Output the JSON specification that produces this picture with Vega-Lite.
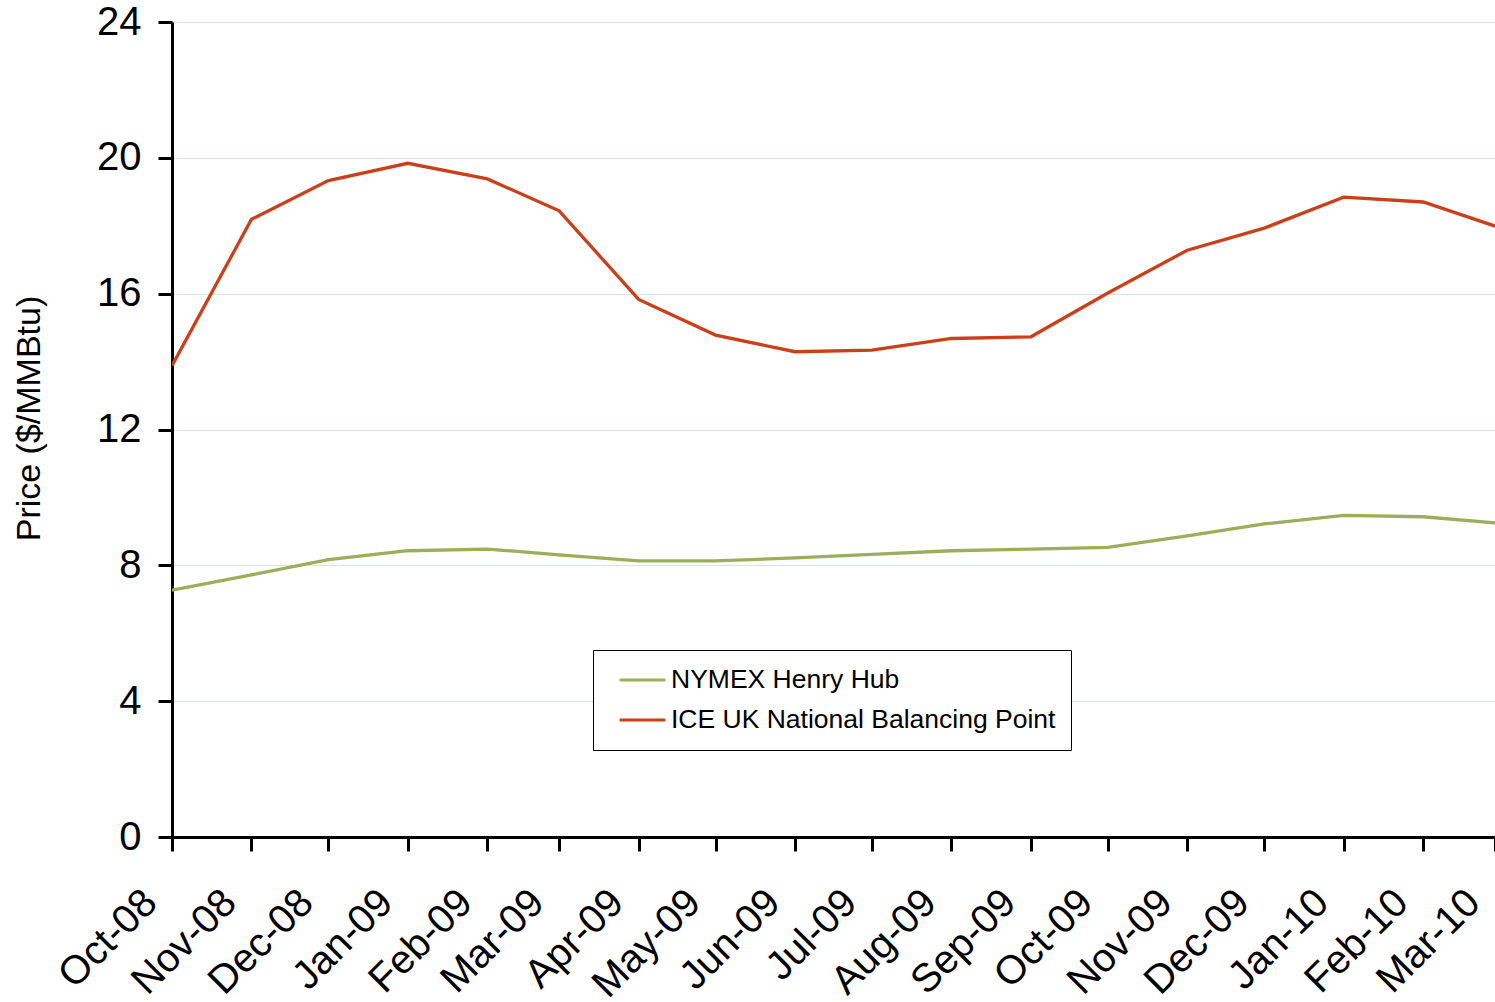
{
  "$schema": "https://vega.github.io/schema/vega-lite/v6.json",
  "autosize": "none",
  "width": 1323,
  "height": 815,
  "padding": {"left": 172, "top": 22, "right": 0, "bottom": 165},
  "background": "white",
  "config": {
    "font": "Liberation Sans",
    "view": {"stroke": null},
    "axis": {"labelColor": "black", "titleColor": "black", "domainColor": "black", "tickColor": "black"}
  },
  "data": {
    "values": [
      {"date": "2008-10-01", "series": "NYMEX Henry Hub", "price": 7.27},
      {"date": "2008-11-01", "series": "NYMEX Henry Hub", "price": 7.72},
      {"date": "2008-12-01", "series": "NYMEX Henry Hub", "price": 8.17},
      {"date": "2009-01-01", "series": "NYMEX Henry Hub", "price": 8.43},
      {"date": "2009-02-01", "series": "NYMEX Henry Hub", "price": 8.48},
      {"date": "2009-03-01", "series": "NYMEX Henry Hub", "price": 8.31},
      {"date": "2009-04-01", "series": "NYMEX Henry Hub", "price": 8.13},
      {"date": "2009-05-01", "series": "NYMEX Henry Hub", "price": 8.13},
      {"date": "2009-06-01", "series": "NYMEX Henry Hub", "price": 8.22},
      {"date": "2009-07-01", "series": "NYMEX Henry Hub", "price": 8.32},
      {"date": "2009-08-01", "series": "NYMEX Henry Hub", "price": 8.43},
      {"date": "2009-09-01", "series": "NYMEX Henry Hub", "price": 8.48},
      {"date": "2009-10-01", "series": "NYMEX Henry Hub", "price": 8.53},
      {"date": "2009-11-01", "series": "NYMEX Henry Hub", "price": 8.87},
      {"date": "2009-12-01", "series": "NYMEX Henry Hub", "price": 9.22},
      {"date": "2010-01-01", "series": "NYMEX Henry Hub", "price": 9.47},
      {"date": "2010-02-01", "series": "NYMEX Henry Hub", "price": 9.43},
      {"date": "2010-03-01", "series": "NYMEX Henry Hub", "price": 9.25},
      {"date": "2008-10-01", "series": "ICE UK National Balancing Point", "price": 13.88},
      {"date": "2008-11-01", "series": "ICE UK National Balancing Point", "price": 18.19},
      {"date": "2008-12-01", "series": "ICE UK National Balancing Point", "price": 19.33},
      {"date": "2009-01-01", "series": "ICE UK National Balancing Point", "price": 19.84},
      {"date": "2009-02-01", "series": "ICE UK National Balancing Point", "price": 19.38},
      {"date": "2009-03-01", "series": "ICE UK National Balancing Point", "price": 18.44},
      {"date": "2009-04-01", "series": "ICE UK National Balancing Point", "price": 15.83},
      {"date": "2009-05-01", "series": "ICE UK National Balancing Point", "price": 14.78},
      {"date": "2009-06-01", "series": "ICE UK National Balancing Point", "price": 14.29},
      {"date": "2009-07-01", "series": "ICE UK National Balancing Point", "price": 14.34},
      {"date": "2009-08-01", "series": "ICE UK National Balancing Point", "price": 14.68},
      {"date": "2009-09-01", "series": "ICE UK National Balancing Point", "price": 14.73},
      {"date": "2009-10-01", "series": "ICE UK National Balancing Point", "price": 16.02},
      {"date": "2009-11-01", "series": "ICE UK National Balancing Point", "price": 17.28},
      {"date": "2009-12-01", "series": "ICE UK National Balancing Point", "price": 17.93},
      {"date": "2010-01-01", "series": "ICE UK National Balancing Point", "price": 18.84},
      {"date": "2010-02-01", "series": "ICE UK National Balancing Point", "price": 18.70},
      {"date": "2010-03-01", "series": "ICE UK National Balancing Point", "price": 17.99}
    ]
  },
  "mark": {"type": "line", "strokeWidth": 3.3, "clip": true},
  "encoding": {
    "x": {
      "field": "date",
      "type": "temporal",
      "scale": {"type": "utc", "nice": false},
      "axis": {
        "title": null,
        "labelExpr": "utcFormat(datum.value, '%b-%y')",
        "values": [
          {"year": 2008, "month": 10, "date": 1, "utc": true},
          {"year": 2008, "month": 11, "date": 1, "utc": true},
          {"year": 2008, "month": 12, "date": 1, "utc": true},
          {"year": 2009, "month": 1, "date": 1, "utc": true},
          {"year": 2009, "month": 2, "date": 1, "utc": true},
          {"year": 2009, "month": 3, "date": 1, "utc": true},
          {"year": 2009, "month": 4, "date": 1, "utc": true},
          {"year": 2009, "month": 5, "date": 1, "utc": true},
          {"year": 2009, "month": 6, "date": 1, "utc": true},
          {"year": 2009, "month": 7, "date": 1, "utc": true},
          {"year": 2009, "month": 8, "date": 1, "utc": true},
          {"year": 2009, "month": 9, "date": 1, "utc": true},
          {"year": 2009, "month": 10, "date": 1, "utc": true},
          {"year": 2009, "month": 11, "date": 1, "utc": true},
          {"year": 2009, "month": 12, "date": 1, "utc": true},
          {"year": 2010, "month": 1, "date": 1, "utc": true},
          {"year": 2010, "month": 2, "date": 1, "utc": true},
          {"year": 2010, "month": 3, "date": 1, "utc": true}
        ],
        "labelAngle": -45,
        "labelAlign": "right",
        "labelBaseline": "top",
        "labelFontSize": 40,
        "labelPadding": 31,
        "labelOffset": -36,
        "labelOverlap": false,
        "labelFlush": false,
        "labelBound": false,
        "grid": false,
        "domainWidth": 3,
        "tickWidth": 3,
        "tickSize": 14
      }
    },
    "y": {
      "field": "price",
      "type": "quantitative",
      "scale": {"domain": [0, 24], "nice": false},
      "axis": {
        "title": "Price ($/MMBtu)",
        "titleFontSize": 34,
        "titleFontWeight": "normal",
        "titlePadding": 50,
        "titleY": 396,
        "values": [0, 4, 8, 12, 16, 20, 24],
        "labelFontSize": 40,
        "labelPadding": 17,
        "grid": true,
        "gridColor": "#D6E4E4",
        "gridWidth": 1.2,
        "domainWidth": 3,
        "tickWidth": 3,
        "tickSize": 14
      }
    },
    "color": {
      "field": "series",
      "type": "nominal",
      "sort": ["NYMEX Henry Hub", "ICE UK National Balancing Point"],
      "scale": {
        "domain": ["NYMEX Henry Hub", "ICE UK National Balancing Point"],
        "range": ["#9BAF5A", "#C9401A"]
      },
      "legend": {
        "title": null,
        "orient": "none",
        "legendX": 421,
        "legendY": 628,
        "direction": "vertical",
        "symbolType": "stroke",
        "symbolSize": 2100,
        "symbolStrokeWidth": 3,
        "symbolOffset": 10,
        "clipHeight": 30,
        "rowPadding": 10,
        "labelFontSize": 26.5,
        "labelLimit": 600,
        "labelOffset": 4,
        "labelColor": "black",
        "padding": 15,
        "strokeColor": "black",
        "fillColor": "white"
      }
    }
  }
}
